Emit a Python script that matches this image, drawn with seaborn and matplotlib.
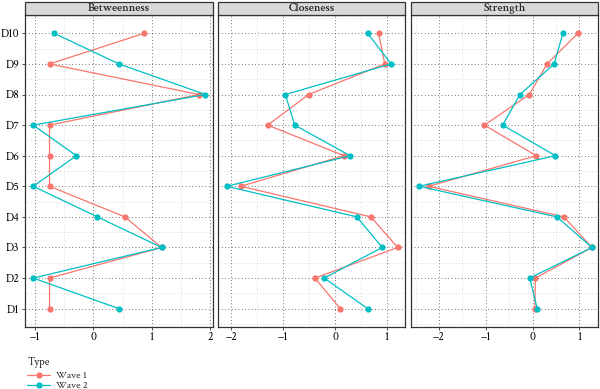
import pandas as pd
import seaborn as sns
import matplotlib.pyplot as plt
from matplotlib.ticker import MultipleLocator
from matplotlib.patches import Rectangle
from matplotlib.lines import Line2D

# 노드 이름 (아래에서 위로)
nodes = ['D1', 'D2', 'D3', 'D4', 'D5', 'D6', 'D7', 'D8', 'D9', 'D10']
measures = ['Betweenness', 'Closeness', 'Strength']

# 중심성 값 (D1..D10)
betw_w1 = [-0.75, -0.75, 1.17, 0.54, -0.75, -0.75, -0.75, 1.81, -0.75, 0.87]
betw_w2 = [0.44, -1.03, 1.17, 0.07, -1.03, -0.29, -1.03, 1.92, 0.44, -0.67]
clos_w1 = [0.10, -0.39, 1.21, 0.69, -1.82, 0.17, -1.30, -0.51, 0.96, 0.84]
clos_w2 = [0.63, -0.21, 0.91, 0.42, -2.09, 0.29, -0.78, -0.96, 1.08, 0.63]
stre_w1 = [0.05, 0.06, 1.27, 0.67, -2.22, 0.08, -1.03, -0.07, 0.31, 0.97]
stre_w2 = [0.10, -0.06, 1.27, 0.52, -2.43, 0.49, -0.64, -0.27, 0.46, 0.65]

values = {
    ('Betweenness', 'Wave 1'): betw_w1, ('Betweenness', 'Wave 2'): betw_w2,
    ('Closeness', 'Wave 1'): clos_w1, ('Closeness', 'Wave 2'): clos_w2,
    ('Strength', 'Wave 1'): stre_w1, ('Strength', 'Wave 2'): stre_w2,
}
rows = []
for (m, w), vals in values.items():
    for i, v in enumerate(vals):
        rows.append({'measure': m, 'Type': w, 'node': nodes[i], 'pos': i + 1, 'value': v})
df = pd.DataFrame(rows)

sns.set_style('white')
plt.rcParams['font.family'] = ['Crimson Text', 'DejaVu Serif']

palette = {'Wave 1': '#F8766D', 'Wave 2': '#00BFC4'}
xlims = {'Betweenness': (-1.17, 2.05), 'Closeness': (-2.26, 1.35), 'Strength': (-2.60, 1.40)}
lefts = [25, 218, 411]
widths = [188, 187, 187]

fig = plt.figure(figsize=(6, 3.89), dpi=100)
W, H = 600, 389
top_px, bot_px = 15, 327

for k, m in enumerate(measures):
    ax = fig.add_axes([lefts[k] / W, 1 - bot_px / H, widths[k] / W, (bot_px - top_px) / H])
    sub = df[df['measure'] == m]
    sns.lineplot(data=sub, x='value', y='pos', hue='Type', palette=palette, sort=False,
                 estimator=None, marker='o', markersize=4.5, markeredgewidth=0,
                 linewidth=0.9, legend=False, ax=ax)
    ax.set_xlim(*xlims[m])
    ax.set_ylim(0.4, 10.6)
    ax.xaxis.set_major_locator(MultipleLocator(1))
    ax.xaxis.set_minor_locator(MultipleLocator(0.5))
    ax.set_yticks(range(1, 11))
    ax.yaxis.set_minor_locator(MultipleLocator(0.5))
    ax.grid(which='major', color='#444444', linestyle=(0, (1, 3)), linewidth=0.6)
    ax.grid(which='minor', color='#bbbbbb', linestyle=(0, (1, 3)), linewidth=0.5)
    ax.set_axisbelow(True)
    ax.set_xlabel('')
    ax.set_ylabel('')
    ax.xaxis.set_major_formatter(plt.FuncFormatter(lambda v, p: f'{v:.0f}'.replace('-', '\u2212')))
    if k == 0:
        ax.set_yticklabels(nodes)
    else:
        ax.set_yticklabels([])
        ax.tick_params(axis='y', length=0)
    ax.tick_params(axis='both', which='major', labelsize=8.5, length=2.5, width=0.6,
                   color='#333333', labelcolor='black', pad=1.5, left=(k == 0), bottom=True)
    ax.tick_params(which='minor', length=0)
    for s in ax.spines.values():
        s.set_color('#333333')
        s.set_linewidth(0.9)
    # 패널 제목 띠
    strip = Rectangle((lefts[k] / W, 1 - top_px / H), widths[k] / W, 13 / H,
                      transform=fig.transFigure, facecolor='#d9d9d9',
                      edgecolor='#333333', linewidth=0.9)
    fig.patches.append(strip)
    fig.text((lefts[k] + widths[k] / 2) / W, 1 - 8.5 / H, m, ha='center', va='center',
             fontsize=8.5, fontweight='semibold')

# 범례
handles = [Line2D([], [], color=palette[t], marker='o', markersize=4.5, markeredgewidth=0,
                  linewidth=0.9) for t in ['Wave 1', 'Wave 2']]
leg = fig.legend(handles, ['Wave 1', 'Wave 2'], title='Type', loc='upper left',
                 bbox_to_anchor=(22 / W, 1 - 352 / H), frameon=False, fontsize=7.5,
                 title_fontsize=8, handlelength=2.2, labelspacing=0.1, borderpad=0,
                 handletextpad=0.6, handleheight=0.6)
leg._legend_box.align = 'left'
leg._legend_box.sep = 2

fig.savefig('out.png', dpi=100)
